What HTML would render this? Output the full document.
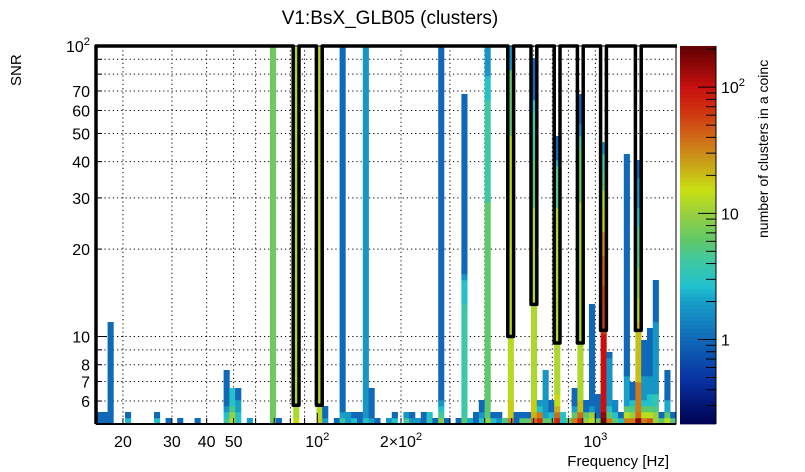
<!DOCTYPE html>
<html><head><meta charset="utf-8"><style>
html,body{margin:0;padding:0;background:#fff;}
svg{display:block;font-family:"Liberation Sans",sans-serif;}
</style></head><body>
<svg id="c" width="805" height="472" viewBox="0 0 805 472" xmlns="http://www.w3.org/2000/svg">
<rect x="0" y="0" width="805" height="472" fill="#fff"/>
<text x="390" y="24" font-size="19" text-anchor="middle">V1:BsX_GLB05 (clusters)</text>
<text transform="translate(21,86) rotate(-90)" font-size="15">SNR</text>
<text x="669" y="466" font-size="15" text-anchor="end">Frequency [Hz]</text>
<text transform="translate(768,238) rotate(-90)" font-size="14">number of clusters in a coinc</text>
<g id="grid"></g>
<g id="cells"></g>
<g id="outline"></g>
<g id="axes"></g>
<g id="cbar"></g>
</svg>
<script>
// ---- data ----
const xTickVals = [20, 30, 40, 50, 100, 200, 1000];
const xTickLabels = ["20", "30", "40", "50", "10^2", "2x10^2", "10^3"];
const yTickVals = [6, 7, 8, 10, 20, 30, 40, 50, 60, 70, 100];
const yTickLabels = ["6", "7", "8", "10", "20", "30", "40", "50", "60", "70", "10^2"];
const zTickVals = [1, 10, 100];
const zTickLabels = ["1", "10", "10^2"];
// notch outline: bin frequency and lowest SNR
const notchFreq = [83.9, 101.7, 496.0, 601.1, 728.5, 882.8, 1069.9, 1427.4];
const notchSnr = [5.8, 5.8, 10.0, 12.9, 9.5, 9.5, 10.5, 10.5];
// columns: frequency (Hz) and cells [snrLo, snrHi, count]
const colFreq = [16.4,17.2,18.0,20.8,26.5,29.2,32.1,37.1,47.2,49.4,51.9,57.1,69.2,72.6,83.9,101.7,106.7,117.4,123.2,129.3,135.6,142.3,149.3,156.6,164.4,180.9,189.8,208.9,219.2,230.0,241.3,253.2,265.6,278.7,292.4,321.9,337.8,354.4,371.8,390.1,409.3,429.5,450.6,472.8,496.0,520.4,546.1,572.9,601.1,630.7,661.7,694.3,728.5,764.4,802.0,841.4,882.8,926.3,971.8,1019.7,1069.9,1122.5,1177.8,1235.7,1296.6,1360.4,1427.4,1497.6,1571.3,1648.6,1729.8,1815.0,1904.3];
const colCells = [
 [[5.12,5.5,1]],
 [[5.12,5.5,1]],
 [[5.12,11.2,1]],
 [[5.12,5.12,2.5],[5.37,5.37,1]],
 [[5.12,5.12,2.8],[5.37,5.37,1]],
 [[5.12,5.12,1]],
 [[5.12,5.12,1]],
 [[5.12,5.12,1]],
 [[5.12,5.12,4],[5.37,5.37,2.8],[5.63,5.63,1.8],[5.91,7.5,1]],
 [[5.12,5.12,14],[5.37,5.37,10],[5.63,5.63,5],[5.91,5.91,3],[6.19,6.65,2.8]],
 [[5.12,5.5,2.8],[5.63,6.05,2],[6.19,6.65,1]],
 [[5.12,5.12,2]],
 [[5.12,100,7]],
 [[5.12,5.12,1]],
 [[5.12,5.12,16],[5.37,100,12]],
 [[5.12,5.12,18],[5.37,100,13]],
 [[5.12,5.12,2],[5.37,5.8,1]],
 [[5.12,5.12,1]],
 [[5.12,5.12,4],[5.37,5.37,2],[5.63,100,1]],
 [[5.12,5.5,1.9]],
 [[5.12,5.12,2.8],[5.37,5.37,1]],
 [[5.12,5.5,1]],
 [[5.12,5.12,2.8],[5.37,100,1.8]],
 [[5.12,5.12,2],[5.37,6.5,1]],
 [[5.12,5.12,1]],
 [[5.12,5.12,1.8]],
 [[5.12,5.12,2.8],[5.37,5.37,1]],
 [[5.12,5.12,4.5],[5.37,5.37,1.8]],
 [[5.12,5.12,1.8],[5.37,5.37,1]],
 [[5.12,5.12,1.8]],
 [[5.12,5.5,1]],
 [[5.12,5.12,3.5],[5.37,5.37,2.8]],
 [[5.12,5.12,1]],
 [[5.12,5.12,9],[5.37,5.37,4.5],[5.63,5.63,2.8],[5.91,5.91,1.8],[6.19,100,1]],
 [[5.12,5.12,1]],
 [[5.12,5.12,1]],
 [[5.12,5.12,6],[5.37,13,4],[13,16,2.8],[16,17,1.8],[17,70,1]],
 [[5.12,5.12,2.2]],
 [[5.12,5.5,1]],
 [[5.12,5.12,2.8],[5.37,5.37,1.8],[5.63,6.05,1]],
 [[5.12,5.12,10],[5.37,30,6],[30,67,4],[67,80,2.8],[80,100,1.8]],
 [[5.12,5.12,2.8],[5.37,5.37,1]],
 [[5.12,5.12,1.8],[5.37,5.37,1]],
 [[5.12,5.12,5]],
 [[5.12,5.12,35],[5.37,6.05,18],[6.05,50,13],[50,85,6],[85,100,1.8]],
 [[5.12,5.5,1]],
 [[5.12,5.12,6],[5.37,5.37,1]],
 [[5.12,5.12,6],[5.37,5.37,1]],
 [[5.12,5.12,40],[5.37,5.37,22],[5.5,6.05,18],[6.05,28,12],[28,42,6],[42,62,4],[62,68,2.6],[68,92,1]],
 [[5.12,5.12,70],[5.37,5.37,35],[5.63,5.63,2.8],[5.91,5.91,1.8]],
 [[5.12,5.12,6],[5.37,5.37,2],[5.63,7.5,1.8]],
 [[5.12,5.12,6],[5.37,5.37,2.5],[5.63,6.05,1]],
 [[5.12,5.12,80],[5.37,5.37,40],[5.63,5.63,22],[5.77,6.5,16],[6.5,28,12],[28,39,5],[39,42,2.2],[42,50,1]],
 [[5.12,5.5,2.8]],
 [[5.12,5.12,6]],
 [[5.12,5.12,35],[5.37,5.37,6],[5.63,5.63,2],[5.91,6.65,1]],
 [[5.12,5.12,80],[5.37,5.37,40],[5.5,6.3,20],[6.3,30,12],[30,45,6],[45,50,4],[50,56,1.8],[56,67,1]],
 [[5.12,5.12,10],[5.37,5.37,6],[5.63,6.05,1]],
 [[5.12,5.12,14],[5.37,5.37,10],[5.63,5.63,1.8],[5.91,12.9,1]],
 [[5.12,5.12,6],[5.37,6.49,1]],
 [[5.12,5.12,200],[5.37,5.37,150],[5.5,10.5,100],[10.5,15,60],[15,19,45],[19,23,30],[23,28,18],[28,32,12],[32,37,6],[37,43,4],[43,47,1.8]],
 [[5.12,5.12,35],[5.37,5.37,6],[5.63,5.63,2.8],[5.77,8.5,1.8],[8.5,8.9,1]],
 [[5.12,5.12,6],[5.37,5.37,2.8],[5.5,6.05,1.5]],
 [[5.12,5.12,2.8],[5.37,5.37,1]],
 [[5.12,5.12,35],[5.37,5.37,14],[5.63,5.63,6],[5.77,7.5,2],[7.5,43,1]],
 [[5.12,5.12,35],[5.37,5.37,10],[5.63,5.63,5],[5.77,6.34,2.8],[6.34,7.1,1]],
 [[5.12,5.12,160],[5.37,5.37,40],[5.5,7,35],[7,11.5,20],[11.5,14,13],[14,18,9],[18,25,5],[25,28,2.8],[28,36,1.8],[36,41,1]],
 [[5.12,5.12,35],[5.37,5.37,14],[5.63,5.63,6],[5.91,5.91,2.8],[6.05,7.5,1.8],[7.5,9.6,1]],
 [[5.12,5.12,50],[5.37,5.37,14],[5.63,5.63,6],[5.77,6.5,2.8],[6.5,7.5,1.8],[7.5,10.5,1]],
 [[5.12,5.12,10],[5.37,5.37,10],[5.63,5.63,5],[5.77,6.5,3.5],[6.5,11.3,1.8],[11.3,15.8,1]],
 [[5.12,5.12,6],[5.37,5.37,1]],
 [[5.12,5.12,14],[5.37,5.37,6],[5.5,6.3,2.2],[6.3,7.5,1]],
 [[5.12,5.12,5],[5.37,5.37,1]]
];
// ---- scales ----
const PX0=96, PX1=676, PY0=46, PY1=424;
const XMIN=16, XMAX=1950, YMIN=5, YMAX=100, ZMIN=0.214, ZMAX=212;
const NXB=100, NYB=63;
const L=Math.log10;
function X(f){return PX0+(PX1-PX0)*(L(f)-L(XMIN))/(L(XMAX)-L(XMIN));}
function Y(s){return PY1-(PY1-PY0)*(L(s)-L(YMIN))/(L(YMAX)-L(YMIN));}
function binOfF(f){return Math.floor(NXB*(L(f)-L(XMIN))/(L(XMAX)-L(XMIN)));}
function rowOf(s){return NYB*(L(s)-L(YMIN))/(L(YMAX)-L(YMIN));}
function binX(i){return PX0+(PX1-PX0)*i/NXB;}
function rowY(r){return PY1-(PY1-PY0)*r/NYB;}
const stopsC=[0.214,0.47,1,2.04,2.6,4.26,6.15,10,15.4,22.2,38,66.7,100,212];
const stopsCol=["#000050","#0830a0","#1068b8","#18a0c8","#20c0d0","#40c8a0","#60c868","#98d040","#c8e010","#c8b018","#d07018","#d03010","#c81010","#600000"];
function hex(h){return [1,3,5].map(k=>parseInt(h.substr(k,2),16));}
function zcol(c){
  const v=L(Math.max(ZMIN,Math.min(ZMAX,c)));
  for(let k=0;k<stopsC.length-1;k++){
    const a=L(stopsC[k]), b=L(stopsC[k+1]);
    if(v<=b){const t=(v-a)/(b-a);const p=hex(stopsCol[k]),q=hex(stopsCol[k+1]);
      return "rgb("+p.map((x,j)=>Math.round(x+(q[j]-x)*t)).join(",")+")";}
  }
  return stopsCol[stopsCol.length-1];
}
const NS="http://www.w3.org/2000/svg";
function mk(tag,attrs,parent){const e=document.createElementNS(NS,tag);for(const k in attrs)e.setAttribute(k,attrs[k]);parent.appendChild(e);return e;}
function label(parent,x,y,txt,anchor,size){
  const t=mk("text",{x:x,y:y,"font-size":size,"text-anchor":anchor},parent);
  const m=txt.match(/^(?:(\d)x)?10\^(\d)$/);
  if(m){ if(m[1]) t.appendChild(document.createTextNode(m[1]+"\u00d710")); else t.appendChild(document.createTextNode("10"));
    const s=mk("tspan",{dy:-7,"font-size":size*0.7},t); s.textContent=m[2];}
  else t.textContent=txt;
  return t;
}
// ---- grid ----
const grid=document.getElementById("grid");
const gx=[];for(const d of [10,100,1000])for(let k=1;k<10;k++){const f=d*k;if(f>XMIN&&f<XMAX)gx.push(f);}
gx.forEach(f=>{const l=mk("line",{x1:X(f),x2:X(f),y1:PY0,y2:PY1,stroke:"#000","stroke-width":1,"stroke-dasharray":"1.2,3"},grid);

});
const gy=[6,7,8,9,10,20,30,40,50,60,70,80,90];
gy.forEach(s=>{const l=mk("line",{x1:PX0,x2:PX1,y1:Y(s),y2:Y(s),stroke:"#000","stroke-width":1,"stroke-dasharray":"1.2,3"},grid);

});
// ---- cells ----
const cells=document.getElementById("cells");
colFreq.forEach((f,ci)=>{
  const i=binOfF(f);
  colCells[ci].forEach(c=>{
    const r0=Math.floor(rowOf(c[0]));
    const r1=Math.max(r0+1,Math.min(NYB,Math.round(rowOf(c[1]))));
    const y0=rowY(r1), y1=rowY(r0);
    const rc=mk("rect",{x:binX(i).toFixed(2),y:y0.toFixed(2),width:(binX(i+1)-binX(i)+0.3).toFixed(2),height:(y1-y0+0.3).toFixed(2),fill:zcol(c[2])},cells);
    
    
  });
});
// ---- outline ----
const outline=document.getElementById("outline");
let d="M"+PX0+","+PY1+" L"+PX0+","+PY0;
notchFreq.forEach((f,k)=>{const i=binOfF(f);const xl=binX(i),xr=binX(i+1),yb=Y(notchSnr[k]);
  d+=" L"+xl.toFixed(1)+","+PY0+" L"+xl.toFixed(1)+","+yb.toFixed(1)+" L"+xr.toFixed(1)+","+yb.toFixed(1)+" L"+xr.toFixed(1)+","+PY0;});
d+=" L"+(PX1+1)+","+PY0;
const op=mk("path",{d:d,fill:"none",stroke:"#000","stroke-width":3.5,"stroke-linejoin":"round"},outline);


// ---- axes ----
const axes=document.getElementById("axes");
const fr=mk("rect",{x:PX0,y:PY0,width:PX1-PX0,height:PY1-PY0,fill:"none",stroke:"#000","stroke-width":1},axes);


mk("line",{x1:PX0,x2:PX1,y1:PY1,y2:PY1,stroke:"#000","stroke-width":2},axes);
gx.forEach(f=>{const major=[10,100,1000].includes(f);mk("line",{x1:X(f),x2:X(f),y1:PY1,y2:PY1-(major?11:6),stroke:"#000","stroke-width":1},axes);});
gy.concat([100]).forEach(s=>{const major=(s===10||s===100);mk("line",{x1:PX0,x2:PX0+(major?11:6),y1:Y(s),y2:Y(s),stroke:"#000","stroke-width":1},axes);});
xTickVals.forEach((f,k)=>{const t=label(axes,X(f),447,xTickLabels[k],"middle",16);

});
yTickVals.forEach((s,k)=>{const t=label(axes,90,Y(s)+6,yTickLabels[k],"end",16);

});
// ---- color bar ----
const cbar=document.getElementById("cbar");
const CX0=680,CX1=716;
function ZY(c){return PY1-(PY1-PY0)*(L(c)-L(ZMIN))/(L(ZMAX)-L(ZMIN));}
const N=95;
for(let k=0;k<N;k++){const v0=L(ZMIN)+(L(ZMAX)-L(ZMIN))*k/N, v1=L(ZMIN)+(L(ZMAX)-L(ZMIN))*(k+1)/N;
  const y1=ZY(Math.pow(10,v0)), y0=ZY(Math.pow(10,v1));
  mk("rect",{x:CX0,y:y0.toFixed(2),width:CX1-CX0,height:(y1-y0+0.4).toFixed(2),fill:zcol(Math.pow(10,(v0+v1)/2))},cbar);}
mk("line",{x1:CX1,x2:CX1,y1:PY0,y2:PY1,stroke:"#000","stroke-width":1},cbar);
for(const dd of [0.1,1,10,100])for(let k=1;k<10;k++){const c=dd*k;if(c<ZMIN||c>ZMAX)continue;const major=(k===1);
  mk("line",{x1:CX1,x2:CX1-(major?18:10),y1:ZY(c),y2:ZY(c),stroke:"#000","stroke-width":1},cbar);}
zTickVals.forEach((c,k)=>{const t=label(cbar,721,ZY(c)+6,zTickLabels[k],"start",16);

});
</script>
</body></html>
